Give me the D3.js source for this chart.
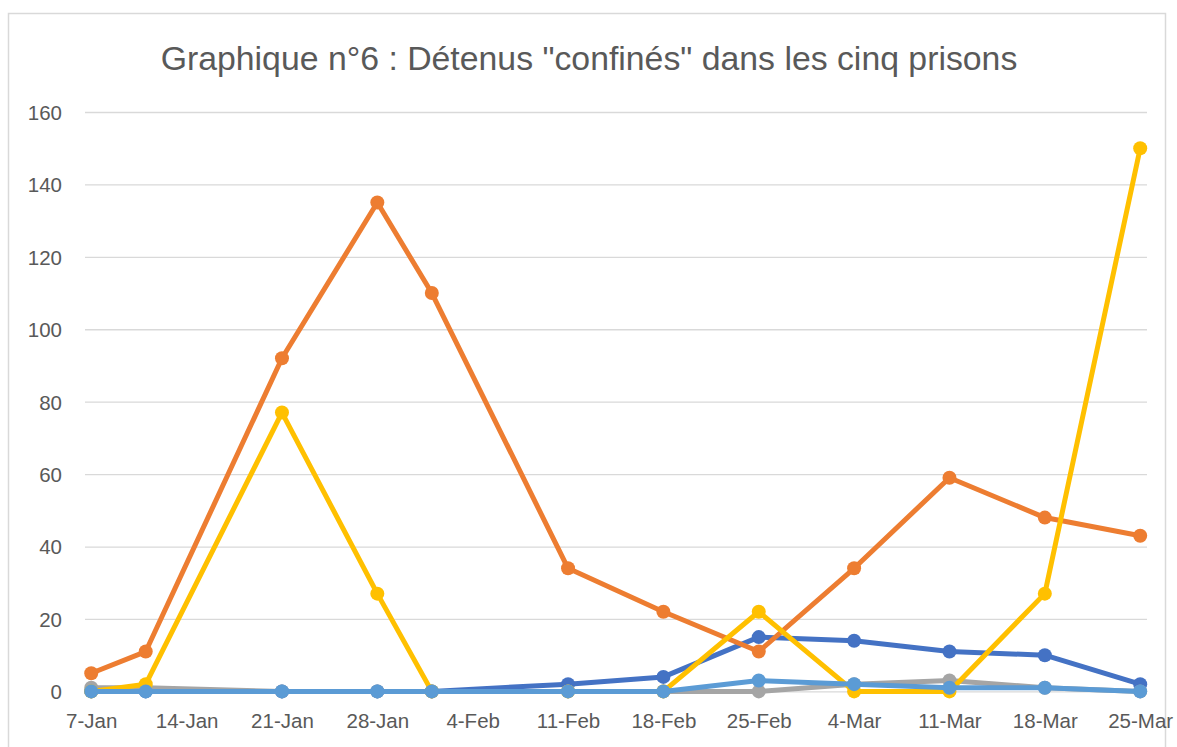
<!DOCTYPE html>
<html><head><meta charset="utf-8">
<script src="https://cdn.jsdelivr.net/npm/d3@7"></script>
<style>body{margin:0;background:#fff;} svg{display:block;}</style>
</head><body>
<svg id="c" width="1177" height="747"></svg>
<script>
const title = 'Graphique n°6 : Détenus "confinés" dans les cinq prisons';
const dates = ["2021-01-07","2021-01-11","2021-01-21","2021-01-28","2021-02-01","2021-02-11","2021-02-18","2021-02-25","2021-03-04","2021-03-11","2021-03-18","2021-03-25"];
const tickDates = ["2021-01-07","2021-01-14","2021-01-21","2021-01-28","2021-02-04","2021-02-11","2021-02-18","2021-02-25","2021-03-04","2021-03-11","2021-03-18","2021-03-25"];
const yTicks = [0,20,40,60,80,100,120,140,160];
const seriesA = [0,0,0,0,0,2,4,15,14,11,10,2];      // dark blue
const seriesB = [5,11,92,135,110,34,22,11,34,59,48,43]; // orange
const seriesC = [1,1,0,0,0,0,0,0,2,3,1,0];          // gray
const seriesD = [0,2,77,27,0,0,0,22,0,0,27,150];    // yellow
const seriesE = [0,0,0,0,0,0,0,3,2,1,1,0];          // light blue
const colors = ["#4472C4","#ED7D31","#A5A5A5","#FFC000","#5B9BD5"];
const allSeries = [seriesA,seriesB,seriesC,seriesD,seriesE];

(function(){
const parse = d3.utcParse("%Y-%m-%d");
const fmt = d3.utcFormat("%-d-%b");
const svg = d3.select("#c");
svg.append("rect").attr("x",8.5).attr("y",13.5).attr("width",1157).attr("height",760)
  .attr("fill","#fff").attr("stroke","#D9D9D9").attr("stroke-width",1.5);

const pLeft=85,pRight=1147,pTop=112,pBottom=691.4;
const d0 = parse(dates[0]), d1 = parse(dates[dates.length-1]);
const x = d3.scaleUtc().domain([d3.utcHour.offset(d0,-11), d3.utcHour.offset(d1,12)]).range([pLeft,pRight]);
const y = d3.scaleLinear().domain([0,160]).range([pBottom,pTop]);

svg.append("text").attr("x",589).attr("y",70).attr("text-anchor","middle")
  .attr("font-family","Liberation Sans, Arial, sans-serif").attr("font-size",33.8)
  .attr("fill","#595959").text(title);

const gy = svg.append("g").attr("transform",`translate(${pLeft},0)`)
  .call(d3.axisLeft(y).tickValues(yTicks).tickSize(-(pRight-pLeft)).tickPadding(23));
gy.select(".domain").remove();
gy.selectAll(".tick line").attr("stroke","#D9D9D9").attr("stroke-width",1.3);
gy.selectAll(".tick text").attr("fill","#595959").attr("font-size",20.5)
  .attr("font-family","Liberation Sans, Arial, sans-serif").attr("dy","0.36em");

const gx = svg.append("g").attr("transform",`translate(0,${pBottom})`)
  .call(d3.axisBottom(x).tickValues(tickDates.map(parse)).tickFormat(fmt).tickSize(0).tickPadding(29));
gx.select(".domain").remove();
gx.selectAll(".tick text").attr("fill","#595959").attr("font-size",20.5)
  .attr("font-family","Liberation Sans, Arial, sans-serif").attr("dy","0.36em");

const line = d3.line().x((d,i)=>x(parse(dates[i]))).y(d=>y(d));
allSeries.forEach((s,k)=>{
  const g = svg.append("g");
  g.append("path").datum(s).attr("d",line).attr("fill","none")
    .attr("stroke",colors[k]).attr("stroke-width",5).attr("stroke-linejoin","round").attr("stroke-linecap","round");
  g.selectAll("circle").data(s).join("circle")
    .attr("cx",(d,i)=>x(parse(dates[i]))).attr("cy",d=>y(d)).attr("r",7).attr("fill",colors[k]);
});
})();
</script>
</body></html>
